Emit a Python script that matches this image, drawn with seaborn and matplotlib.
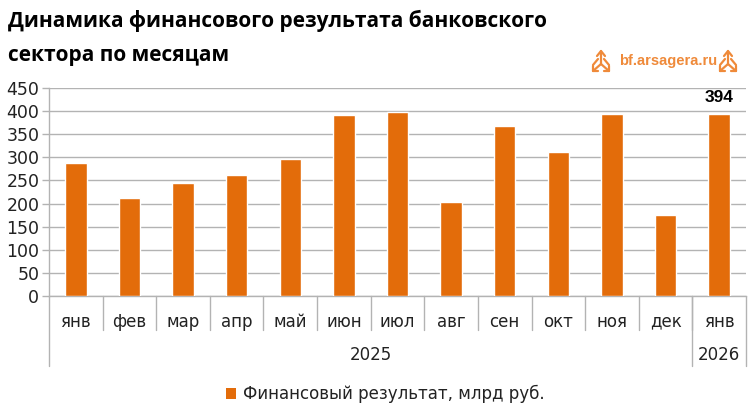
import matplotlib
matplotlib.use('Agg')
import matplotlib.pyplot as plt
import matplotlib.transforms as mtransforms
from matplotlib.lines import Line2D
from matplotlib.patches import Patch
import seaborn as sns
import pandas as pd

months = ['янв', 'фев', 'мар', 'апр', 'май', 'июн', 'июл', 'авг', 'сен', 'окт', 'ноя', 'дек', 'янв']
years = ['2025'] * 12 + ['2026']
values = [288, 213, 244, 261, 296, 392, 399, 203, 368, 311, 394, 176, 394]
y_ticks = [0, 50, 100, 150, 200, 250, 300, 350, 400, 450]
series_name = 'Финансовый результат, млрд руб.'
title = 'Динамика финансового результата банковского\nсектора по месяцам'
last_label = '394'
site = 'bf.arsagera.ru'

ORANGE = '#E36C0A'
LOGO = '#EF8A3A'
GRID = '#B3B3B3'

df = pd.DataFrame({'period': [f'{m} {y}' for m, y in zip(months, years)],
                   'month': months, 'year': years, 'value': values})

sns.set_theme(style='white')
plt.rcParams['font.family'] = ['Liberation Sans Narrow', 'DejaVu Sans']

fig = plt.figure(figsize=(7.5, 4.13), dpi=100)
W, H = 750, 413
ax = fig.add_axes([49 / W, 1 - 296 / H, (746 - 49) / W, (296 - 88) / H])

sns.barplot(data=df, x='period', y='value', order=df['period'], color=ORANGE,
            width=0.4, saturation=1, ax=ax, zorder=3)

ax.set_xlim(-0.5, len(months) - 0.5)
ax.set_ylim(0, 450)
ax.set_yticks(y_ticks)
ax.yaxis.grid(True, color=GRID, linewidth=1, zorder=0)
ax.tick_params(axis='y', length=5, width=1, color=GRID, labelsize=12.5,
               labelcolor='#222222', pad=2, left=True)
for s in ['top', 'right']:
    ax.spines[s].set_visible(False)
for s in ['left', 'bottom']:
    ax.spines[s].set_color(GRID)
    ax.spines[s].set_linewidth(1)
ax.set_xlabel('')
ax.set_ylabel('')

# month labels at centres, separators between months
ax.set_xticks(range(len(months)))
ax.set_xticklabels(months, fontsize=12, color='#222222')
ax.tick_params(axis='x', length=0, pad=12)
trans = mtransforms.blended_transform_factory(ax.transData, ax.transAxes)
ax_h = 296 - 88
for k in range(len(months) - 1):
    ax.plot([k + 0.5, k + 0.5], [0, -34 / ax_h], transform=trans, color=GRID,
            linewidth=1, clip_on=False)

# year groups
groups = []
for i, y in enumerate(years):
    if groups and groups[-1][0] == y:
        groups[-1][2] = i
    else:
        groups.append([y, i, i])
edges = [-0.5] + [g[2] + 0.5 for g in groups]
for e in edges:
    ax.plot([e, e], [0, -70 / ax_h], transform=trans, color=GRID,
            linewidth=1, clip_on=False)
for y, a, b in groups:
    ax.text((a + b) / 2, -59 / ax_h, y, transform=trans, ha='center', va='center',
            fontsize=12, color='#222222')

# value label on last bar
ax.text(len(values) - 1, values[-1] + 19, last_label, ha='center', va='bottom',
        fontsize=12.5, fontweight='bold', color='black',
        family=['Liberation Sans', 'DejaVu Sans'])

fig.text(8 / W, 1 - 10 / H, title, ha='left', va='top', fontsize=15,
         fontweight='bold', color='black', linespacing=1.78,
         family=['Open Sans', 'DejaVu Sans'])

# logo
fig.text(668 / W, 1 - 61 / H, site, ha='center', va='center',
         fontsize=10.5, fontweight='bold', color=LOGO,
         family=['Liberation Sans', 'DejaVu Sans'])


def icon(cx, cy):
    segs = [
        [(0, -2), (0, 11)], [(-4, 6), (0, 11), (4, 6)],
        [(0, -2), (-8, -9)], [(-8, -4), (-8, -9), (-3, -9)],
        [(0, -2), (8, -9)], [(8, -4), (8, -9), (3, -9)],
        [(-3, 3), (-8, -3)], [(3, 3), (8, -3)],
    ]
    for seg in segs:
        xs = [(cx + p[0]) / W for p in seg]
        ys = [1 - (cy - p[1]) / H for p in seg]
        fig.add_artist(Line2D(xs, ys, color=LOGO, linewidth=1.6,
                              solid_capstyle='round', transform=fig.transFigure))


icon(601, 62)
icon(728, 62)

fig.legend(handles=[Patch(facecolor=ORANGE, edgecolor='none')], labels=[series_name],
           loc='center', bbox_to_anchor=(385 / W, 1 - 394 / H), frameon=False,
           fontsize=12, handlelength=0.6, handleheight=0.6, handletextpad=0.4,
           labelcolor='#222222')

fig.savefig('out.png', dpi=100)
